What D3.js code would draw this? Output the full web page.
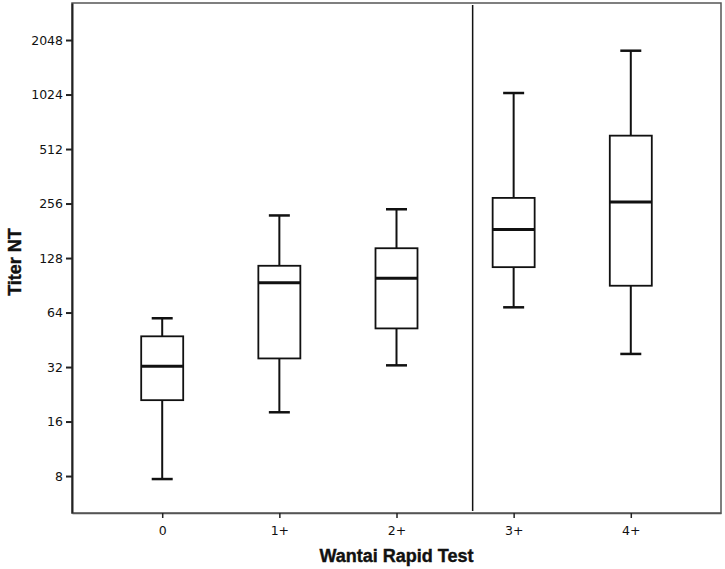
<!DOCTYPE html>
<html>
<head>
<meta charset="utf-8">
<script src="https://cdnjs.cloudflare.com/ajax/libs/d3/7.8.5/d3.min.js"></script>
<style>
  body { margin: 0; background: #fff; }
  .tick text { font-family: "DejaVu Sans", sans-serif; font-size: 12.5px; fill: #111; }
  .axisLabel { font-family: "Liberation Sans", Arial, sans-serif; font-weight: bold; font-size: 18px; fill: #111; stroke: #111; stroke-width: 0.4px; }
</style>
</head>
<body>
<svg id="chart"></svg>
<script>
// categories and box statistics (titer values)
const groups = ['0', '1+', '2+', '3+', '4+'];
const whiskerLow = [7.7, 18.0, 32.7, 68.4, 37.8];
const q1 = [21.0, 35.7, 52.3, 114, 90];
const median = [32.3, 93.5, 98.9, 184, 261];
const q3 = [47.3, 116, 145, 275, 607];
const whiskerHigh = [59.5, 220, 238, 1044, 1788];
const yTicks = [8, 16, 32, 64, 128, 256, 512, 1024, 2048];
// vertical separator, in category-index units
const splitAt = 2.65;

const width = 725, height = 569;
const margin = { top: 3, right: 4, bottom: 56, left: 72 };
const vizWidth = width - margin.left - margin.right;
const vizHeight = height - margin.top - margin.bottom;

const svg = d3.select('#chart').attr('width', width).attr('height', height);
const plot = svg.append('g')
    .attr('transform', 'translate(' + margin.left + ',' + margin.top + ')');

const x = d3.scalePoint()
    .domain(groups)
    .range([0, vizWidth])
    .padding(0.77);
const y = d3.scaleLog()
    .base(2)
    .domain([5.0, 3280])
    .range([vizHeight, 0]);

const boxW = 42, capW = 21;

// frame
plot.append('rect')
    .attr('x', 0).attr('y', 0)
    .attr('width', vizWidth).attr('height', vizHeight)
    .attr('fill', 'none').attr('stroke', '#555').attr('stroke-width', 1.5);

// axes
const yAxis = plot.append('g')
    .call(d3.axisLeft(y).tickValues(yTicks).tickFormat(d3.format('d'))
        .tickSize(6).tickSizeOuter(0).tickPadding(3));
yAxis.select('.domain').attr('stroke', '#222').attr('stroke-width', 2);
yAxis.selectAll('.tick line').attr('stroke', '#222').attr('stroke-width', 2);

const xAxis = plot.append('g')
    .attr('transform', 'translate(0,' + vizHeight + ')')
    .call(d3.axisBottom(x).tickSize(5).tickSizeOuter(0).tickPadding(8));
xAxis.select('.domain').attr('stroke', '#555').attr('stroke-width', 1.5);
xAxis.selectAll('.tick line').attr('stroke', '#222').attr('stroke-width', 1.5);

// separator line
const step = x.step();
plot.append('line')
    .attr('x1', x(groups[0]) + splitAt * step)
    .attr('x2', x(groups[0]) + splitAt * step)
    .attr('y1', 2).attr('y2', vizHeight - 2)
    .attr('stroke', '#111').attr('stroke-width', 1.5);

// boxes
const boxes = plot.selectAll('g.box')
    .data(groups)
    .join('g')
    .attr('class', 'box')
    .attr('transform', d => 'translate(' + x(d) + ',0)');

boxes.append('line')
    .attr('x1', 0).attr('x2', 0)
    .attr('y1', (d, i) => y(whiskerHigh[i]))
    .attr('y2', (d, i) => y(q3[i]))
    .attr('stroke', '#111').attr('stroke-width', 2);
boxes.append('line')
    .attr('x1', 0).attr('x2', 0)
    .attr('y1', (d, i) => y(q1[i]))
    .attr('y2', (d, i) => y(whiskerLow[i]))
    .attr('stroke', '#111').attr('stroke-width', 2);
boxes.append('line')
    .attr('x1', -capW / 2).attr('x2', capW / 2)
    .attr('y1', (d, i) => y(whiskerHigh[i]))
    .attr('y2', (d, i) => y(whiskerHigh[i]))
    .attr('stroke', '#111').attr('stroke-width', 2.5);
boxes.append('line')
    .attr('x1', -capW / 2).attr('x2', capW / 2)
    .attr('y1', (d, i) => y(whiskerLow[i]))
    .attr('y2', (d, i) => y(whiskerLow[i]))
    .attr('stroke', '#111').attr('stroke-width', 2.5);
boxes.append('rect')
    .attr('x', -boxW / 2)
    .attr('width', boxW)
    .attr('y', (d, i) => y(q3[i]))
    .attr('height', (d, i) => y(q1[i]) - y(q3[i]))
    .attr('fill', '#fff').attr('stroke', '#111').attr('stroke-width', 1.8);
boxes.append('line')
    .attr('x1', -boxW / 2).attr('x2', boxW / 2)
    .attr('y1', (d, i) => y(median[i]))
    .attr('y2', (d, i) => y(median[i]))
    .attr('stroke', '#111').attr('stroke-width', 3);

// axis titles
svg.append('text')
    .attr('class', 'axisLabel')
    .attr('x', margin.left + x(groups[2]))
    .attr('y', 562)
    .style('text-anchor', 'middle')
    .text('Wantai Rapid Test');
svg.append('text')
    .attr('class', 'axisLabel')
    .attr('transform', 'translate(21,' + 262 + ') rotate(-90)')
    .style('text-anchor', 'middle')
    .text('Titer NT');
</script>
</body>
</html>
